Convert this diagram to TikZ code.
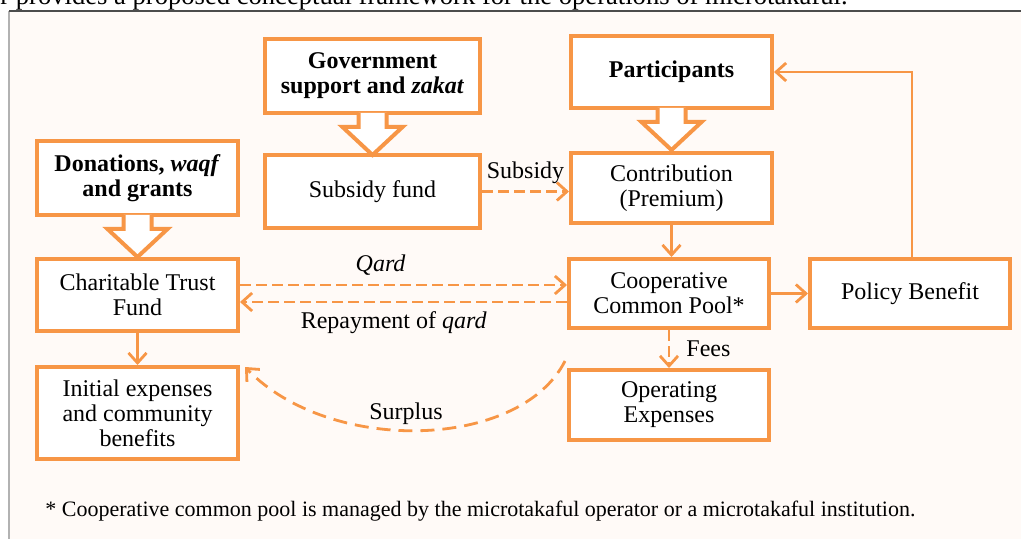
\documentclass[tikz,border=0pt]{standalone}
\usepackage{fontspec}
\setmainfont{Liberation Serif}
\usetikzlibrary{arrows.meta,calc}
\definecolor{orng}{RGB}{247,150,70}
\definecolor{paper}{RGB}{255,250,247}

% block arrow hanging under a box
\newcommand{\downcallout}[1]{%
  \draw[callout] ($(#1.south)+(-7pt,1pt)$) -- ++(0,-7pt) -- ++(-8pt,0)
    -- ($(#1.south)+(0,-20pt)$) -- ($(#1.south)+(15pt,-6pt)$)
    -- ++(-8pt,0) -- ++(0,7pt);}

\begin{document}
\begin{tikzpicture}[x=0.5pt, y=-0.5pt,
    box/.style={draw=orng, line width=2pt, fill=white, align=center, inner sep=2pt,
      font=\fontsize{12}{12.5}\selectfont},
    callout/.style={draw=orng, line width=2pt, fill=white, line join=miter},
    flow/.style={draw=orng, line width=1.4pt, -{Straight Barb[length=5pt,width=9pt]}},
    dashflow/.style={flow, dash pattern=on 5.5pt off 2.5pt},
    surplus/.style={flow, dash pattern=on 7pt off 4pt},
    lbl/.style={font=\fontsize{12}{12.5}\selectfont, inner sep=1pt}]
%  \draw [help lines] (0,0) grid[step=50] (1021,539);

  \useasboundingbox (0,0) rectangle (1021,539);
  \clip (0,0) rectangle (1021,539);

  % page text and frame
  \node [anchor=base east, inner sep=0pt, font=\fontsize{13.3}{15}\selectfont] (pagetxt) at (848,5)
    {r provides a proposed conceptual framework for the operations of microtakaful.};
  \fill [paper] (9,11) rectangle (1040,560);
  \draw [gray!60, line width=1pt] (9,560) -- (9,11);
  \draw [black!70, line width=1.2pt] (9,11) -- (1040,11);

  % sources
  \node [box, minimum width=107.5pt, minimum height=37pt] (gov) at (372.5,76)
    {\textbf{Government}\\\textbf{support and \textit{zakat}}};
  \node [box, minimum width=100.5pt, minimum height=37pt] (don) at (137.5,178)
    {\textbf{Donations, \textit{waqf}}\\\textbf{and grants}};
  \node [box, minimum width=100.5pt, minimum height=36pt] (par) at (671.5,72)
    {\textbf{Participants}};

  % funds
  \node [box, minimum width=107.5pt, minimum height=36.5pt] (sub) at (372.5,191.5) {Subsidy fund};
  \node [box, minimum width=100.5pt, minimum height=35pt] (con) at (671.5,188) {Contribution\\(Premium)};
  \node [box, minimum width=100.5pt, minimum height=36pt] (ctf) at (137.5,295) {Charitable Trust\\Fund};
  \node [box, minimum width=100pt, minimum height=34.5pt] (ccp) at (669,293.5) {Cooperative\\Common Pool*};
  \node [box, minimum width=100pt, minimum height=34.5pt] (pol) at (910,293.5) {Policy Benefit};
  \node [box, minimum width=100.5pt, minimum height=46pt] (ini) at (137.5,413)
    {Initial expenses\\and community\\benefits};
  \node [box, minimum width=100pt, minimum height=35pt] (ope) at (669,405) {Operating\\Expenses};

  \downcallout{gov}
  \downcallout{don}
  \downcallout{par}

  % flows
  \draw [dashflow] (sub.east) -- (sub.east -| con.west)
    node [lbl, midway, above=2pt] (lsub) {Subsidy};
  \draw [flow] (con.south) -- (con.south |- ccp.north);
  \coordinate (q1) at ([yshift=5pt]ctf.east);
  \coordinate (q2) at ([yshift=-3.5pt]ctf.east);
  \draw [dashflow] (q1) -- (q1 -| ccp.west)
    node [lbl, pos=0.43, above=3pt] (lqard) {\textit{Qard}};
  \draw [dashflow] (q2 -| ccp.west) -- (q2)
    node [lbl, pos=0.53, below=3pt] (lrep) {Repayment of \textit{qard}};
  \draw [flow] (ccp.east) -- (ccp.east -| pol.west);
  \draw [flow] ([xshift=1pt]pol.north) |- (par.east);
  \draw [dashflow] (ccp.south) -- (ope.north)
    node [lbl, midway, right=7pt] (lfee) {Fees};
  \draw [flow] (ctf.south) -- (ini.north);
  \draw [surplus] ([shift={(-1pt,3.5pt)}]ope.north west) .. controls (520,450) and (330,455)
    .. ([shift={(2.5pt,-1pt)}]ini.north east);
  \node [lbl] (lsur) at (406,414) {Surplus};

  \node [anchor=base west, inner sep=0pt, font=\fontsize{11}{12}\selectfont] (note) at (45,516)
    {* Cooperative common pool is managed by the microtakaful operator or a microtakaful institution.};
\end{tikzpicture}
\end{document}
